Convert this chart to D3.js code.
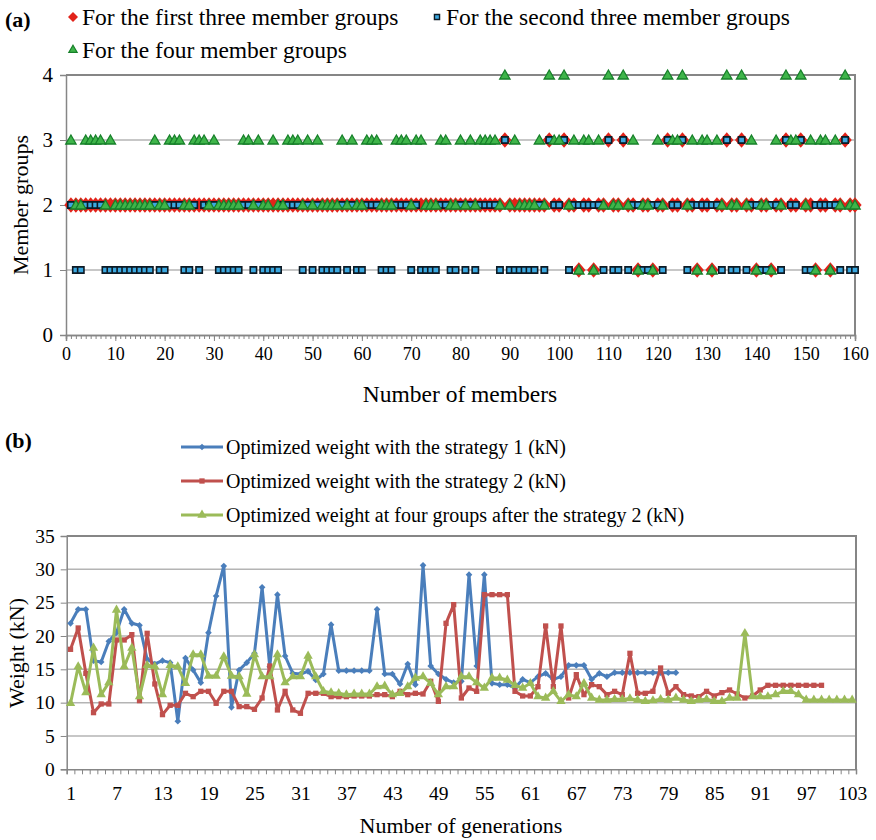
<!DOCTYPE html>
<html>
<head>
<meta charset="utf-8">
<script src="https://cdn.jsdelivr.net/npm/d3@7"></script>
<style>
    body { margin: 0; background: #fff; }
    svg { display: block; }
    text { font-family: "Liberation Serif", "Times New Roman", serif; fill: #000; }
</style>
</head>
<body>
<svg id="chart" width="876" height="840"></svg>
<script>
// (a) group index of every member, members 1..160
const groupsFirstThree = [
    2,2,2,2,2,2,2,2,2,2,2,2,2,2,2,2,2,2,2,2,
    2,2,2,2,2,2,2,2,2,2,2,2,2,2,2,2,2,2,2,2,
    2,2,2,2,2,2,2,2,2,2,2,2,2,2,2,2,2,2,2,2,
    2,2,2,2,2,2,2,2,2,2,2,2,2,2,2,2,2,2,2,2,
    2,2,2,2,2,2,2,2,3,2,2,2,2,2,2,2,2,3,2,2,
    3,2,2,1,2,2,1,2,2,3,2,2,3,2,2,1,2,2,1,2,
    2,3,2,2,3,2,2,1,2,2,1,2,2,3,2,2,3,2,2,1,
    2,2,1,2,2,3,2,2,3,2,2,1,2,2,1,2,2,3,2,2
];
const groupsSecondThree = [
    2,1,1,2,2,2,2,1,1,1,1,1,1,1,1,1,1,2,1,1,
    2,2,2,1,1,2,1,2,2,2,1,1,1,1,1,2,2,1,2,1,
    1,1,1,2,2,2,2,1,2,1,2,1,1,1,1,2,1,2,1,1,
    2,2,2,1,1,1,2,2,2,1,2,1,1,1,1,2,2,1,1,2,
    1,2,1,2,2,2,2,1,3,1,1,1,1,1,1,2,1,3,2,2,
    3,1,2,2,2,2,2,2,1,3,1,1,3,1,2,2,1,1,2,2,
    1,3,2,2,3,1,2,2,2,2,2,2,1,3,1,1,3,1,2,2,
    1,1,2,2,1,3,2,2,3,1,1,2,2,2,2,2,1,3,1,1
];
const groupsFour = [
    3,2,2,3,3,3,3,2,3,2,2,2,2,2,2,2,2,3,2,2,
    3,3,3,2,2,3,3,3,2,3,2,2,2,2,2,3,3,2,3,2,
    2,3,2,2,3,3,3,2,3,2,3,2,2,2,2,3,2,3,2,2,
    3,3,3,2,2,2,3,3,3,2,3,3,2,2,2,3,3,2,2,3,
    2,3,2,3,3,3,3,2,4,2,3,2,2,2,2,3,2,4,3,3,
    4,2,3,1,3,3,1,3,2,4,2,2,4,2,3,1,2,2,1,3,
    2,4,3,3,4,2,3,1,3,3,1,3,2,4,2,2,4,2,3,1,
    2,2,1,3,2,4,3,3,4,2,3,1,3,3,1,3,2,4,2,2
];
const memberTicks = [0, 10, 20, 30, 40, 50, 60, 70, 80, 90, 100, 110, 120, 130, 140, 150, 160];
const groupTicks = [0, 1, 2, 3, 4];

// (b) weight per generation (kN)
const weightStrategy1 = [
    21.9, 24.0, 24.0, 16.3, 16.1, 19.2, 20.5, 24.0, 21.9, 21.6,
    16.5, 15.8, 16.3, 16.0, 7.2, 16.7, 14.9, 13.0, 20.5, 26.0,
    30.5, 9.3, 14.9, 16.0, 17.4, 27.3, 15.4, 26.2, 17.0, 14.4,
    14.3, 14.7, 13.4, 14.3, 21.7, 14.8, 14.8, 14.8, 14.8, 14.8,
    24.0, 14.3, 14.3, 12.8, 15.8, 12.7, 30.6, 15.5, 14.3, 13.5,
    13.0, 13.2, 29.2, 15.5, 29.2, 12.9, 12.7, 12.7, 12.2, 13.5,
    13.0, 13.9, 14.4, 13.5, 13.9, 15.6, 15.6, 15.6, 13.5, 14.4,
    13.9, 14.5, 14.5, 14.5, 14.5, 14.5, 14.5, 14.5, 14.5, 14.5
];
const weightStrategy2 = [
    18.0, 21.2, 14.4, 8.5, 9.8, 9.8, 19.4, 19.4, 20.2, 10.3,
    20.4, 12.8, 8.2, 9.6, 9.6, 11.4, 10.9, 11.7, 11.7, 9.9,
    11.7, 11.7, 9.4, 9.4, 9.0, 10.7, 15.5, 8.9, 11.7, 8.9,
    8.4, 11.4, 11.4, 11.4, 10.9, 10.9, 10.9, 11.0, 11.0, 11.0,
    11.2, 11.2, 10.9, 11.7, 11.2, 11.4, 11.3, 13.2, 10.2, 21.9,
    24.7, 10.7, 12.2, 11.7, 26.2, 26.2, 26.2, 26.2, 11.7, 11.0,
    11.0, 12.4, 21.5, 12.4, 21.5, 10.7, 14.2, 11.2, 12.7, 12.4,
    11.2, 11.7, 11.2, 17.4, 11.4, 11.4, 11.7, 15.2, 11.4, 12.4,
    11.2, 11.0, 10.9, 11.7, 11.0, 11.5, 11.9, 11.3, 10.7, 11.0,
    11.9, 12.6, 12.6, 12.6, 12.6, 12.6, 12.6, 12.6, 12.6
];
const weightFourGroups = [
    9.9, 15.4, 11.5, 18.2, 11.2, 13.0, 23.9, 15.4, 18.2, 10.9,
    15.6, 15.4, 11.2, 15.6, 15.4, 12.9, 17.2, 17.2, 14.0, 14.0,
    16.9, 14.0, 13.9, 11.3, 17.2, 13.9, 13.9, 17.2, 13.0, 13.9,
    13.9, 17.0, 13.9, 11.7, 11.5, 11.4, 11.2, 11.3, 11.3, 11.3,
    12.4, 12.5, 11.2, 11.4, 12.4, 13.7, 13.9, 12.9, 11.2, 12.4,
    12.4, 13.9, 13.9, 13.0, 12.2, 13.7, 13.7, 13.4, 12.6, 12.2,
    12.9, 10.9, 10.7, 11.7, 10.2, 11.2, 10.9, 12.9, 10.7, 10.4,
    10.4, 10.5, 10.5, 10.6, 10.4, 10.2, 10.3, 10.5, 10.4, 10.7,
    10.4, 10.2, 10.4, 10.5, 10.2, 10.2, 10.7, 10.7, 20.4, 10.9,
    10.9, 10.9, 11.2, 11.7, 11.7, 11.2, 10.4, 10.4, 10.4, 10.4,
    10.4, 10.4, 10.4
];
const generationTicks = [1, 7, 13, 19, 25, 31, 37, 43, 49, 55, 61, 67, 73, 79, 85, 91, 97, 103];
const weightTicks = [0, 5, 10, 15, 20, 25, 30, 35];

const svg = d3.select("#chart");
const serif = "'Liberation Serif', 'Times New Roman', serif";
const gridColor = "#b4b4b4";
const frameColor = "#868686";

const styleAxis = function (g) {
    g.attr("font-family", serif);
    g.select(".domain").attr("stroke", frameColor).attr("stroke-width", 1.5);
    g.selectAll(".tick line").attr("stroke", frameColor);
};

// ---------- panel (a) ----------
const xa = d3.scaleLinear().domain([0, 160]).range([66, 855]);
const ya = d3.scaleLinear().domain([0, 4]).range([335, 75]);

const pa = svg.append("g");

pa.selectAll(".grid")
    .data(groupTicks.slice(1, 4))
    .enter().append("line")
    .attr("x1", xa(0)).attr("x2", xa(160))
    .attr("y1", d => ya(d)).attr("y2", d => ya(d))
    .attr("stroke", gridColor).attr("stroke-width", 1.5);

// frame top and right
pa.append("path")
    .attr("d", "M" + xa(0) + "," + ya(4) + "H" + xa(160) + "V" + ya(0))
    .attr("fill", "none").attr("stroke", frameColor).attr("stroke-width", 2);

pa.append("g")
    .attr("transform", "translate(0," + ya(0) + ")")
    .call(d3.axisBottom(xa).tickValues(d3.range(0, 161, 1)).tickSize(4).tickFormat(""))
    .call(styleAxis);

pa.append("g")
    .attr("transform", "translate(0," + ya(0) + ")")
    .call(d3.axisBottom(xa).tickValues(memberTicks).tickSize(6).tickPadding(6))
    .call(styleAxis)
    .selectAll("text").style("font-size", "18px");

pa.append("g")
    .attr("transform", "translate(" + xa(0) + ",0)")
    .call(d3.axisLeft(ya).tickValues(groupTicks).tickSize(6).tickPadding(7).tickFormat(d3.format("d")))
    .call(styleAxis)
    .selectAll("text").style("font-size", "21px");

// plot markers
const diamond = d3.symbol().type(d3.symbolSquare).size(88);
const square = d3.symbol().type(d3.symbolSquare).size(40);
const triangle = d3.symbol().type(d3.symbolTriangle).size(46);
// legend markers
const diamondSmall = d3.symbol().type(d3.symbolSquare).size(50);
const squareSmall = d3.symbol().type(d3.symbolSquare).size(26);
const triangleSmall = d3.symbol().type(d3.symbolTriangle).size(30);

pa.selectAll(".first")
    .data(groupsFirstThree)
    .enter().append("path")
    .attr("d", diamond)
    .attr("transform", (d, i) => "translate(" + xa(i + 1) + "," + ya(d) + ") scale(1,1.15) rotate(45)")
    .attr("fill", "#e2231a");

pa.selectAll(".second")
    .data(groupsSecondThree)
    .enter().append("path")
    .attr("d", square)
    .attr("transform", (d, i) => "translate(" + xa(i + 1) + "," + ya(d) + ")")
    .attr("fill", "#3ba8e0").attr("stroke", "#0d1a24").attr("stroke-width", 1.6);

pa.selectAll(".four")
    .data(groupsFour)
    .enter().append("path")
    .attr("d", triangle)
    .attr("transform", (d, i) => "translate(" + xa(i + 1) + "," + (ya(d) + 1) + ")")
    .attr("fill", "#3fb54a").attr("stroke", "#17802a").attr("stroke-width", 1.3);

pa.append("text")
    .attr("x", 460).attr("y", 402)
    .attr("text-anchor", "middle").style("font-size", "23.5px")
    .text("Number of members");

pa.append("text")
    .attr("transform", "translate(28,205) rotate(-90)")
    .attr("text-anchor", "middle").style("font-size", "22px")
    .text("Member groups");

pa.append("text")
    .attr("x", 5).attr("y", 27)
    .style("font-size", "22px").style("font-weight", "bold")
    .text("(a)");

const legendA = [
    {label: "For the first three member groups", x: 73, y: 17, shape: "first"},
    {label: "For the second three member groups", x: 437, y: 17, shape: "second"},
    {label: "For the four member groups", x: 73, y: 50, shape: "four"}
];
legendA.forEach(function (d) {
    const g = pa.append("g").attr("transform", "translate(" + d.x + "," + d.y + ")");
    if (d.shape === "first") {
        g.append("path").attr("d", diamondSmall).attr("transform", "rotate(45)").attr("fill", "#e2231a");
    } else if (d.shape === "second") {
        g.append("path").attr("d", squareSmall).attr("fill", "#3ba8e0").attr("stroke", "#0d1a24").attr("stroke-width", 1.4);
    } else {
        g.append("path").attr("d", triangleSmall).attr("fill", "#3fb54a").attr("stroke", "#17802a").attr("stroke-width", 1.2);
    }
    g.append("text").attr("x", 9).attr("y", 8).style("font-size", "23.5px").text(d.label);
});

// ---------- panel (b) ----------
const xb = d3.scaleLinear().domain([0.5, 103.5]).range([66.7, 856]);
const yb = d3.scaleLinear().domain([0, 35]).range([769.3, 536]);

const pb = svg.append("g");

pb.selectAll(".grid")
    .data(weightTicks.slice(1, 7))
    .enter().append("line")
    .attr("x1", xb(0.5)).attr("x2", xb(103.5))
    .attr("y1", d => yb(d)).attr("y2", d => yb(d))
    .attr("stroke", gridColor).attr("stroke-width", 1.5);

pb.append("path")
    .attr("d", "M" + xb(0.5) + "," + yb(35) + "H" + xb(103.5) + "V" + yb(0))
    .attr("fill", "none").attr("stroke", frameColor).attr("stroke-width", 2);

pb.append("g")
    .attr("transform", "translate(0," + yb(0) + ")")
    .call(d3.axisBottom(xb).tickValues(d3.range(0.5, 104, 1)).tickSize(5).tickFormat(""))
    .call(styleAxis);

pb.append("g")
    .attr("transform", "translate(0," + yb(0) + ")")
    .call(d3.axisBottom(xb).tickValues(generationTicks).tickSize(0).tickPadding(17))
    .call(styleAxis)
    .call(g => g.select(".domain").remove())
    .selectAll("text").style("font-size", "19.5px");

pb.append("g")
    .attr("transform", "translate(" + xb(0.5) + ",0)")
    .call(d3.axisLeft(yb).tickValues(weightTicks).tickSize(6).tickPadding(6))
    .call(styleAxis)
    .selectAll("text").style("font-size", "19.5px");

const seriesB = [
    {name: "Optimized weight with the strategy 1  (kN)", values: weightStrategy1, color: "#4a7ebb",
        marker: d3.symbol().type(d3.symbolSquare).size(22), rotate: 45},
    {name: "Optimized weight with the strategy 2  (kN)", values: weightStrategy2, color: "#c0504d",
        marker: d3.symbol().type(d3.symbolSquare).size(28), rotate: 0},
    {name: "Optimized weight at four groups after the strategy 2  (kN)", values: weightFourGroups, color: "#9bbb59",
        marker: d3.symbol().type(d3.symbolTriangle).size(38), rotate: 0}
];

const line = d3.line()
    .x((d, i) => xb(i + 1))
    .y(d => yb(d));

seriesB.forEach(function (s) {
    pb.append("path")
        .datum(s.values)
        .attr("fill", "none")
        .attr("stroke", s.color)
        .attr("stroke-width", 3)
        .attr("stroke-linejoin", "round")
        .attr("d", line);
    pb.selectAll(null)
        .data(s.values)
        .enter().append("path")
        .attr("d", s.marker)
        .attr("transform", (d, i) => "translate(" + xb(i + 1) + "," + yb(d) + ") rotate(" + s.rotate + ")")
        .attr("fill", s.color);
});

seriesB.forEach(function (s, i) {
    const y = 447 + i * 34;
    const g = pb.append("g");
    g.append("line").attr("x1", 181).attr("x2", 223).attr("y1", y).attr("y2", y)
        .attr("stroke", s.color).attr("stroke-width", 3);
    g.append("path").attr("d", s.marker)
        .attr("transform", "translate(202," + y + ") rotate(" + s.rotate + ")")
        .attr("fill", s.color);
    g.append("text").attr("x", 226).attr("y", y + 7).style("font-size", "20px").text(s.name);
});

pb.append("text")
    .attr("x", 5).attr("y", 448)
    .style("font-size", "22px").style("font-weight", "bold")
    .text("(b)");

pb.append("text")
    .attr("x", 461).attr("y", 833)
    .attr("text-anchor", "middle").style("font-size", "22px")
    .text("Number of generations");

pb.append("text")
    .attr("transform", "translate(24,653) rotate(-90)")
    .attr("text-anchor", "middle").style("font-size", "22px")
    .text("Weight (kN)");
</script>
</body>
</html>
